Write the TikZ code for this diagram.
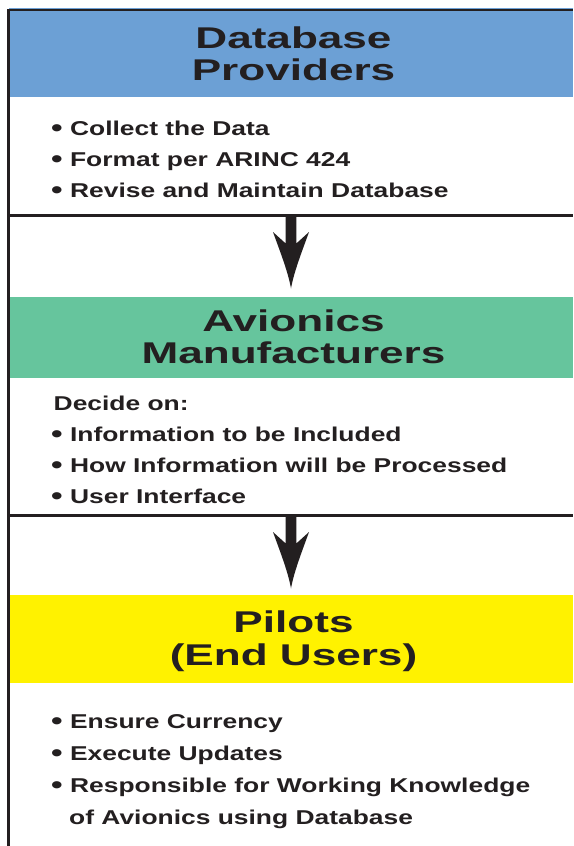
\documentclass[tikz,border=0pt]{standalone}
\usepackage{fontspec}
\setmainfont{Liberation Sans}
\newfontfamily\titlefont{Liberation Sans}[FakeStretch=1.47]
\newfontfamily\bodyfont{Liberation Sans}[FakeStretch=1.32]
\newcommand\mybul{\raisebox{-1.5pt}{\fontsize{25}{25}\selectfont •}}
\definecolor{provblue}{RGB}{108,160,213}
\definecolor{avgreen}{RGB}{102,197,157}
\definecolor{pilyellow}{RGB}{255,242,0}
\definecolor{ink}{RGB}{35,31,32}
\tikzset{
  band/.style={anchor=north west, inner sep=0pt, outer sep=0pt, minimum width=564pt, draw=none},
  titletext/.style={anchor=base, inner sep=0pt, font=\titlefont\bfseries\fontsize{30}{31}\selectfont, text=ink},
  bodytext/.style={anchor=base west, inner sep=0pt, font=\bodyfont\bfseries\fontsize{20}{31}\selectfont, text=ink},
  rulestyle/.style={draw=ink, line width=2.4pt},
  downarrow/.pic={
    \fill[ink] (-5.3,-1) -- (-5.3,28) -- (-18,16.5)
      .. controls (-11,36) and (-3,56) .. (0,73)
      .. controls (3,56) and (11,36) .. (18,16.5)
      -- (5.3,28) -- (5.3,-1) -- cycle;
  }
}
\begin{document}
\begin{tikzpicture}[x=1pt,y=-1pt]
\useasboundingbox (0,0) rectangle (573,846);
% colour bands
\node[band, fill=provblue, minimum height=89pt] (prov) at (9,8) {};
\node[band, fill=avgreen, minimum height=81pt] (avio) at (9,297) {};
\node[band, fill=pilyellow, minimum height=88pt] (pilo) at (9,595) {};
% frame lines
\coordinate (topw) at (7.4,10.3);
\coordinate (tope) at (573,10.3);
\coordinate (leftn) at (8.5,9.3);
\coordinate (lefts) at (8.5,846);
\coordinate (s1w) at (7.4,215.5);
\coordinate (s1e) at (573,215.5);
\coordinate (s2w) at (7.4,515.5);
\coordinate (s2e) at (573,515.5);
\draw[ink, line width=2pt] (topw) -- (tope);
\draw[ink, line width=2.2pt] (leftn) -- (lefts);
\draw[rulestyle] (s1w) -- (s1e);
\draw[rulestyle] (s2w) -- (s2e);
% arrows
\coordinate (a1) at (291,215.5);
\coordinate (a2) at (291,515.5);
\pic at (a1) {downarrow};
\pic at (a2) {downarrow};
% titles
\node[titletext] (t1a) at (293.5,48) {Database};
\node[titletext] (t1b) at (293.5,80) {Providers};
\node[titletext] (t2a) at (293.5,331) {Avionics};
\node[titletext] (t2b) at (293.5,363) {Manufacturers};
\node[titletext] (t3a) at (293.5,632) {Pilots};
\node[titletext] (t3b) at (293.5,665) {(End Users)};
% body texts
\node[bodytext] (b1a) at (51,135) {\mybul{} Collect the Data};
\node[bodytext] (b1b) at (51,166) {\mybul{} Format per ARINC 424};
\node[bodytext] (b1c) at (51,197) {\mybul{} Revise and Maintain Database};
\node[bodytext] (b2h) at (53.5,410) {Decide on:};
\node[bodytext] (b2a) at (51,441) {\mybul{} Information to be Included};
\node[bodytext] (b2b) at (51,472) {\mybul{} How Information will be Processed};
\node[bodytext] (b2c) at (51,503) {\mybul{} User Interface};
\node[bodytext] (b3a) at (51,728) {\mybul{} Ensure Currency};
\node[bodytext] (b3b) at (51,760) {\mybul{} Execute Updates};
\node[bodytext] (b3c) at (51,792) {\mybul{} Responsible for Working Knowledge};
\node[bodytext] (b3d) at (69,824) {of Avionics using Database};
\end{tikzpicture}
\end{document}
